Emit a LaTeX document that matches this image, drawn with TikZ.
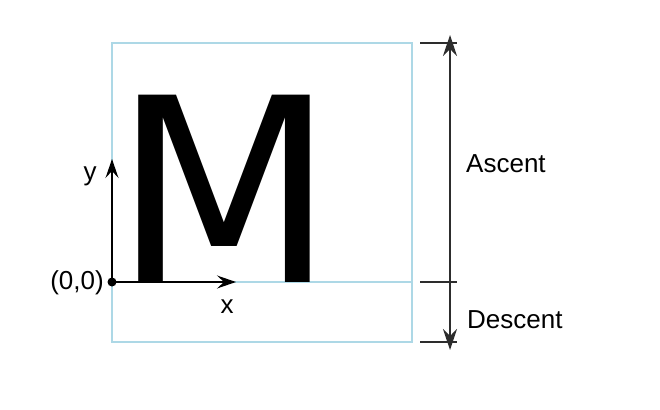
\documentclass[tikz,border=0pt]{standalone}
\usepackage{fontspec}
\setmainfont{Liberation Sans}
\newfontfamily\glyphfont{DejaVu Sans}
\usetikzlibrary{arrows.meta}
\definecolor{boxblue}{RGB}{173,216,230}
\definecolor{dimgray}{RGB}{45,45,45}
\tikzset{
  lbl/.style={inner sep=0pt, font=\fontsize{26}{30}\selectfont},
  axis/.style={line width=1.4pt, black, -{Stealth[length=19pt,width=13pt,inset=7pt]}},
  dimline/.style={line width=1.4pt, dimgray},
  dimarrow/.style={line width=1.4pt, dimgray, {Stealth[length=21pt,width=14pt,inset=7pt]}-{Stealth[length=21pt,width=14pt,inset=7pt]}},
  guide/.style={line width=1.4pt, boxblue}
}
\begin{document}
\begin{tikzpicture}[x=1pt,y=-1pt]
\useasboundingbox (0,0) rectangle (660,409);
% glyph box
\coordinate (boxtl) at (112,43);
\coordinate (boxbr) at (412,342);
\draw[guide] (boxtl) rectangle (boxbr);
\coordinate (baseL) at (112,282);
\coordinate (baseR) at (412,282);
\draw[guide] (baseL) -- (baseR);
% letter
\node[inner sep=0pt, anchor=base, text depth=0pt, text height=187pt, font=\glyphfont\fontsize{257}{257}\selectfont] (M) at (224.5,282) {M};
% axes
\coordinate (origin) at (112,282);
\coordinate (yend) at (112,159);
\coordinate (xend) at (236,282);
\draw[axis] (origin) -- (yend);
\draw[axis] (origin) -- (xend);
\fill[black] (origin) circle (4.5pt);
\node[lbl, anchor=base] (ylab) at (90,180) {y};
\node[lbl, anchor=base] (xlab) at (227,313) {x};
\node[lbl, anchor=east] (olab) at (104,283) {(0,0)};
% dimension lines
\coordinate (t1a) at (420,43);  \coordinate (t1b) at (457,43);
\coordinate (t2a) at (420,282); \coordinate (t2b) at (457,282);
\coordinate (t3a) at (420,342); \coordinate (t3b) at (457,342);
\draw[dimline] (t1a) -- (t1b);
\draw[dimline] (t2a) -- (t2b);
\draw[dimline] (t3a) -- (t3b);
\coordinate (dtop) at (450,35);
\coordinate (dbot) at (450,350);
\draw[dimarrow] (dtop) -- (dbot);
\node[lbl, anchor=base west] (asc) at (466,172) {Ascent};
\node[lbl, anchor=base west] (desc) at (467,328) {Descent};
\end{tikzpicture}
\end{document}
